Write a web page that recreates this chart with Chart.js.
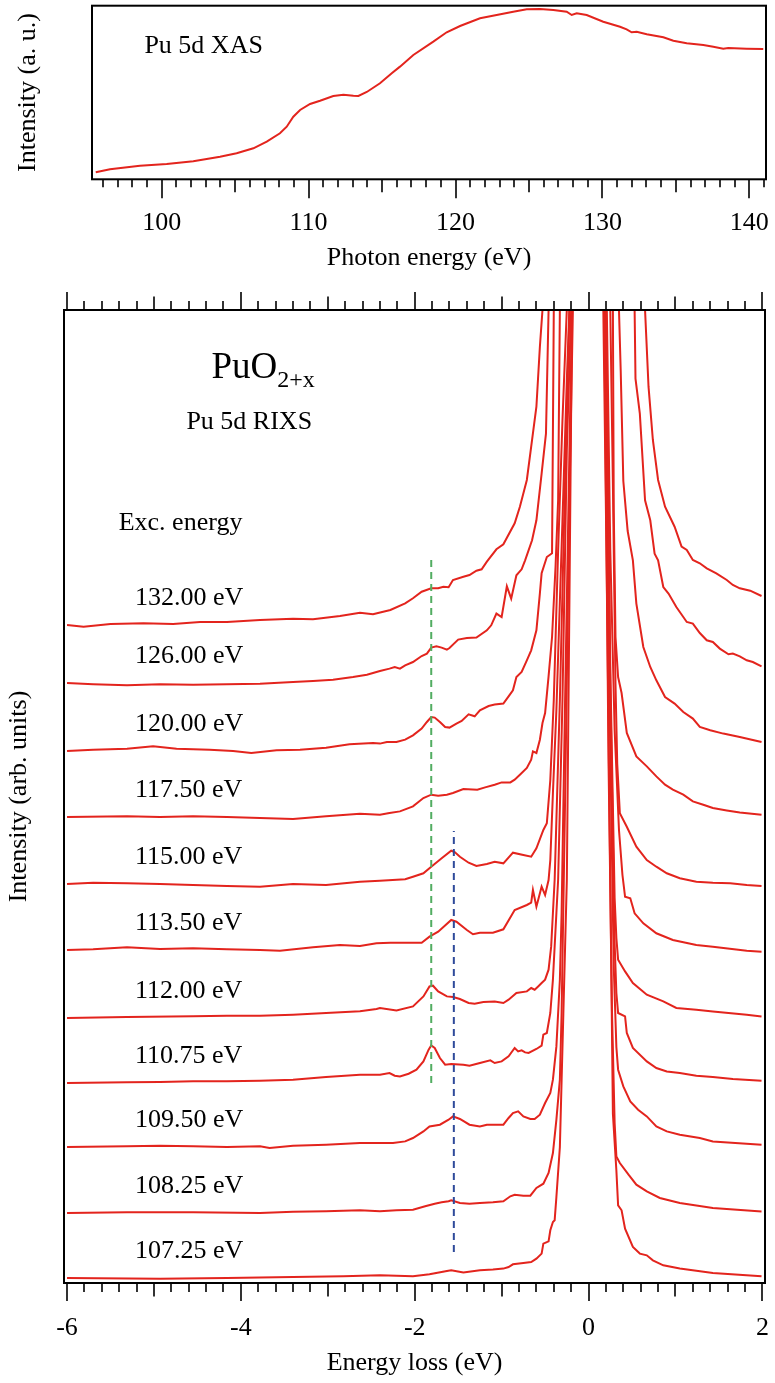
<!DOCTYPE html>
<html>
<head>
<meta charset="utf-8">
<script src="https://cdn.jsdelivr.net/npm/chart.js@4.4.1/dist/chart.umd.min.js"></script>
<style>
  html, body { margin: 0; padding: 0; background: #fff; }
  #wrap { position: relative; width: 775px; height: 1383px; }
  #xas { position: absolute; left: 0; top: 0; width: 775px; height: 285px; }
  #rixs { position: absolute; left: 0; top: 285px; width: 775px; height: 1098px; }
</style>
</head>
<body>
<div id="wrap">
  <canvas id="xas" width="775" height="285"></canvas>
  <canvas id="rixs" width="775" height="1098"></canvas>
</div>
<script>
// ---- Pu 5d XAS (photon energy in eV, intensity in a.u.) ----
const xasEnergy = [95.51, 96.48, 98.52, 100.34, 102.15, 103.97, 105.10, 106.24, 107.15, 108.05,
  108.51, 108.96, 109.42, 110.10, 110.78, 111.68, 112.37, 113.05, 113.39, 113.96, 114.86, 115.66,
  116.22, 117.13, 118.49, 119.40, 120.31, 121.67, 122.80, 123.93, 124.85, 125.75, 126.66, 127.57,
  127.91, 128.25, 128.93, 130.06, 131.20, 131.65, 131.99, 132.34, 133.02, 134.15, 134.83, 135.74,
  136.87, 137.55, 138.23, 138.57, 139.82, 140.95];
const xasIntensity = [4.03, 5.76, 7.83, 8.81, 10.37, 13.02, 14.98, 17.86, 21.66, 26.50,
  30.30, 36.06, 39.92, 43.38, 45.28, 47.99, 48.73, 48.16, 47.99, 50.29, 55.30, 61.06,
  64.90, 71.60, 79.28, 84.70, 88.31, 92.74, 94.64, 96.54, 97.93, 98.10, 97.52, 96.54,
  94.64, 95.62, 94.64, 90.79, 87.90, 86.41, 84.68, 85.02, 83.53, 81.80, 79.84, 78.34,
  77.36, 76.38, 75.23, 75.63, 75.23, 75.06];
const xasTickValues = [100, 110, 120, 130, 140];

// ---- Pu 5d RIXS of PuO2+x: [energy loss (eV), intensity above the spectrum's own baseline] ----
const excitationLabels = ['132.00 eV', '126.00 eV', '120.00 eV', '117.50 eV', '115.00 eV', '113.50 eV',
  '112.00 eV', '110.75 eV', '109.50 eV', '108.25 eV', '107.25 eV'];
// vertical offset of each spectrum (arb. units)
const offsets = [65.8, 60.0, 53.2, 46.6, 39.9, 33.3, 26.5, 20.0, 13.6, 7.0, 0.5];

const rixs13200 = [[-6.00,0],[-5.81,-0.17],[-5.50,0.10],[-5.12,0.17],[-4.78,0.10],[-4.47,0.30],[-4.16,0.30],
  [-3.78,0.50],[-3.40,0.63],[-3.17,0.57],[-2.86,0.90],[-2.63,1.23],[-2.48,1.07],[-2.28,1.50],[-2.11,2.17],
  [-2.02,2.67],[-1.92,3.33],[-1.81,3.67],[-1.73,3.67],[-1.67,3.83],[-1.61,3.77],[-1.56,4.50],[-1.44,4.83],
  [-1.37,5.00],[-1.29,5.43],[-1.23,5.57],[-1.17,6.33],[-1.06,7.57],[-0.98,8.07],[-0.85,10.17],[-0.79,11.83],
  [-0.71,14.50],[-0.66,17.83],[-0.60,21.83],[-0.56,27.83],[-0.53,31.50],[-0.45,60],[-0.30,150],[0.00,300],
  [0.30,150],[0.55,60],[0.65,31.5],[0.69,23.83],[0.74,18.50],[0.80,14.50],[0.88,11.83],[0.99,9.83],
  [1.07,7.83],[1.13,7.50],[1.20,6.50],[1.28,6.17],[1.36,5.67],[1.47,5.17],[1.59,4.50],[1.66,4.00],
  [1.74,3.67],[1.86,3.43],[1.99,2.90]];
const rixs12600 = [[-6.00,0],[-5.70,-0.13],[-5.31,-0.23],[-4.93,-0.13],[-4.55,-0.17],[-4.16,-0.13],[-3.78,-0.07],
  [-3.40,0.10],[-3.17,0.20],[-2.94,0.33],[-2.71,0.60],[-2.55,0.83],[-2.48,1.00],[-2.40,1.20],[-2.29,1.44],
  [-2.23,1.60],[-2.17,1.44],[-2.11,1.77],[-2.02,2.10],[-1.92,2.70],[-1.86,2.94],[-1.81,3.54],[-1.75,3.67],
  [-1.69,3.54],[-1.63,3.34],[-1.60,3.50],[-1.50,4.34],[-1.40,4.50],[-1.29,4.54],[-1.17,5.27],[-1.12,5.77],
  [-1.06,6.94],[-1.00,6.60],[-0.94,9.67],[-0.89,8.44],[-0.83,10.77],[-0.77,11.37],[-0.73,12.27],[-0.65,14.27],
  [-0.60,16.27],[-0.54,20.94],[-0.49,24.94],[-0.46,37.3],[-0.40,80],[-0.30,160],[0.00,300],[0.30,150],
  [0.45,70],[0.53,37.3],[0.54,30.44],[0.59,26.94],[0.65,18.27],[0.71,16.27],[0.76,12.94],[0.80,12.27],
  [0.86,9.60],[0.92,8.94],[1.01,7.60],[1.13,6.10],[1.20,5.94],[1.28,5.00],[1.36,4.27],[1.43,4.10],
  [1.51,3.44],[1.61,2.87],[1.66,2.94],[1.74,2.67],[1.82,2.27],[1.89,2.10],[1.99,1.67]];
const rixs12000 = [[-6.00,0],[-5.70,0.13],[-5.31,0.23],[-5.01,0.47],[-4.74,0.23],[-4.36,0.13],[-4.09,0],
  [-3.88,-0.20],[-3.59,0.07],[-3.32,0.13],[-3.02,0.33],[-2.75,0.67],[-2.48,0.80],[-2.40,0.74],[-2.32,0.90],
  [-2.21,0.90],[-2.11,1.14],[-2.02,1.57],[-1.92,2.24],[-1.86,2.90],[-1.81,3.40],[-1.77,3.34],[-1.71,2.90],
  [-1.65,2.40],[-1.60,2.34],[-1.52,2.74],[-1.46,3.00],[-1.38,3.67],[-1.31,3.47],[-1.25,4.07],[-1.15,4.50],
  [-1.08,4.64],[-0.98,4.74],[-0.92,5.47],[-0.87,6.07],[-0.83,7.40],[-0.77,7.90],[-0.71,9.07],[-0.66,10.07],
  [-0.60,12.07],[-0.56,15.77],[-0.54,17.77],[-0.48,19.40],[-0.42,19.77],[-0.40,44.1],[-0.30,120],[0.00,300],
  [0.25,150],[0.35,44.1],[0.37,38],[0.40,27],[0.45,22],[0.51,19.07],[0.55,14.74],[0.63,10.40],[0.71,8.40],
  [0.78,7.07],[0.88,5.40],[0.99,4.74],[1.09,3.90],[1.20,3.24],[1.28,2.40],[1.40,2.07],[1.55,1.74],
  [1.74,1.40],[1.99,0.90]];
const rixs11750 = [[-6.00,0],[-5.31,0.07],[-4.93,0],[-4.55,0.07],[-4.16,0],[-3.78,-0.10],[-3.40,-0.20],
  [-3.02,0.07],[-2.63,0.33],[-2.40,0.23],[-2.29,0.40],[-2.17,0.56],[-2.02,1.06],[-1.90,1.90],[-1.81,2.23],
  [-1.73,2.13],[-1.63,2.23],[-1.56,2.40],[-1.44,2.80],[-1.28,2.73],[-1.19,2.96],[-1.08,3.23],[-1.00,3.46],
  [-0.90,3.46],[-0.85,3.73],[-0.79,4.23],[-0.71,4.90],[-0.66,5.73],[-0.64,6.56],[-0.60,6.40],[-0.56,7.73],
  [-0.53,9.40],[-0.50,10.40],[-0.46,14.06],[-0.42,18.00],[-0.38,25.00],[-0.35,31.70],[-0.33,50.8],
  [-0.25,120],[0.00,300],[0.20,150],[0.28,50.8],[0.29,30.7],[0.31,18.0],[0.34,14.0],[0.38,12.40],
  [0.44,8.40],[0.55,6.06],[0.67,5.06],[0.78,4.06],[0.88,3.23],[0.97,2.73],[1.09,2.23],[1.20,1.56],
  [1.32,1.23],[1.43,0.90],[1.59,0.66],[1.74,0.46],[1.99,0.23]];
const rixs11500 = [[-6.00,0],[-5.70,0.13],[-5.31,0.07],[-4.93,0],[-4.55,-0.10],[-4.16,-0.20],[-3.78,-0.27],
  [-3.40,0],[-3.02,-0.10],[-2.63,0.23],[-2.40,0.33],[-2.11,0.47],[-2.02,0.73],[-1.90,1.07],[-1.81,1.73],
  [-1.69,2.57],[-1.58,3.33],[-1.54,3.20],[-1.48,2.73],[-1.38,2.13],[-1.29,1.80],[-1.17,2.00],[-1.08,2.23],
  [-0.98,2.07],[-0.87,3.13],[-0.75,2.90],[-0.66,2.73],[-0.60,3.57],[-0.52,5.40],[-0.48,6.07],[-0.44,10.40],
  [-0.40,18.40],[-0.35,33.40],[-0.30,46.40],[-0.25,57.5],[-0.20,120],[0.00,300],[0.20,120],[0.25,57.5],
  [0.28,40],[0.31,20],[0.33,12],[0.36,7.07],[0.44,5.73],[0.55,3.73],[0.67,2.40],[0.78,1.73],[0.90,1.07],
  [1.05,0.57],[1.24,0.23],[1.43,0.13],[1.63,0.07],[1.82,-0.10],[1.99,-0.20]];
const rixs11350 = [[-6.00,0],[-5.70,0.07],[-5.31,0.27],[-4.93,0.10],[-4.55,0.17],[-4.16,0.07],[-3.78,0],
  [-3.55,-0.07],[-3.17,0.27],[-2.86,0.50],[-2.63,0.40],[-2.44,0.67],[-2.28,0.73],[-1.92,0.73],[-1.83,1.33],
  [-1.73,1.83],[-1.58,3.00],[-1.52,2.83],[-1.40,2.00],[-1.33,1.57],[-1.25,1.73],[-1.10,1.73],[-0.98,2.07],
  [-0.85,4.00],[-0.71,4.50],[-0.66,4.73],[-0.64,6.00],[-0.60,4.33],[-0.54,6.33],[-0.50,5.50],[-0.46,7.00],
  [-0.44,9.00],[-0.41,15.70],[-0.37,24.00],[-0.30,43.00],[-0.25,57.00],[-0.22,64.1],[-0.15,130],[0.00,300],
  [0.15,130],[0.21,64.1],[0.25,40],[0.30,22],[0.35,12],[0.39,7.5],[0.42,5.33],[0.48,5.17],[0.53,3.67],
  [0.63,2.67],[0.78,1.67],[0.97,1.00],[1.24,0.50],[1.43,0.33],[1.82,-0.07],[1.99,-0.17]];
const rixs11200 = [[-6.00,0],[-5.31,0.10],[-4.55,0.17],[-4.16,0.23],[-3.78,0.23],[-3.40,0.33],[-3.02,0.50],
  [-2.63,0.67],[-2.44,0.90],[-2.40,1.00],[-2.21,0.76],[-2.02,1.16],[-1.90,2.16],[-1.83,3.16],[-1.79,3.23],
  [-1.73,2.66],[-1.63,2.16],[-1.56,2.10],[-1.48,1.90],[-1.38,1.50],[-1.31,1.43],[-1.21,1.60],[-1.08,1.66],
  [-0.98,1.50],[-0.92,1.83],[-0.83,2.50],[-0.71,2.66],[-0.66,3.00],[-0.62,2.83],[-0.58,3.16],[-0.54,3.50],
  [-0.50,3.83],[-0.46,4.83],[-0.43,7.16],[-0.41,10.50],[-0.39,13.83],[-0.33,31.80],[-0.27,53.80],[-0.22,70.8],
  [-0.15,150],[0.00,300],[0.15,150],[0.20,70.8],[0.25,35],[0.30,12],[0.32,8],[0.34,5.83],[0.42,4.66],
  [0.51,3.50],[0.67,2.33],[0.86,1.66],[1.01,1.00],[1.24,0.83],[1.43,0.66],[1.82,0.33],[1.99,0.16]];
const rixs11075 = [[-6.00,0],[-5.31,0.07],[-4.93,0.10],[-4.55,0.17],[-4.16,0.17],[-3.78,0.23],[-3.40,0.33],
  [-3.02,0.60],[-2.63,0.83],[-2.40,0.83],[-2.29,1.00],[-2.23,0.73],[-2.17,0.66],[-2.07,0.93],[-1.98,1.33],
  [-1.90,2.16],[-1.84,3.33],[-1.81,3.76],[-1.77,3.50],[-1.71,2.50],[-1.65,1.83],[-1.58,1.90],[-1.44,1.83],
  [-1.37,1.73],[-1.25,2.00],[-1.13,2.26],[-1.08,2.00],[-1.00,2.16],[-0.92,2.66],[-0.85,3.50],[-0.81,3.16],
  [-0.77,3.26],[-0.73,3.06],[-0.69,3.00],[-0.60,3.40],[-0.54,3.73],[-0.52,4.83],[-0.48,5.00],[-0.44,7.00],
  [-0.41,10.33],[-0.37,17.00],[-0.35,20.33],[-0.30,38.30],[-0.25,63.30],[-0.20,77.4],[-0.12,160],[0.00,300],
  [0.15,160],[0.20,77.4],[0.25,40],[0.30,14],[0.32,9],[0.34,7.00],[0.42,6.66],[0.44,5.00],[0.51,3.50],
  [0.67,2.16],[0.78,1.50],[0.90,1.16],[1.05,1.00],[1.24,0.73],[1.43,0.60],[1.66,0.40],[1.99,0.23]];
const rixs10950 = [[-6.00,0],[-5.31,0.07],[-4.93,0.13],[-4.55,0.07],[-4.16,0],[-3.78,0.07],[-3.67,-0.10],
  [-3.40,0.13],[-3.02,0.23],[-2.63,0.40],[-2.40,0.40],[-2.25,0.40],[-2.11,0.56],[-2.02,0.90],[-1.90,1.56],
  [-1.83,2.06],[-1.71,2.23],[-1.61,2.73],[-1.56,3.06],[-1.48,2.80],[-1.37,2.23],[-1.25,2.06],[-1.17,2.23],
  [-0.98,2.23],[-0.92,2.90],[-0.87,3.40],[-0.81,3.56],[-0.75,3.06],[-0.67,2.80],[-0.62,2.80],[-0.56,3.23],
  [-0.50,4.40],[-0.44,5.40],[-0.41,6.73],[-0.37,10.06],[-0.33,16.73],[-0.31,23.40],[-0.27,44.70],
  [-0.22,69.70],[-0.19,83.8],[-0.10,180],[0.00,300],[0.10,180],[0.19,83.8],[0.24,45],[0.29,18],[0.32,10],
  [0.34,7.73],[0.40,6.06],[0.48,4.56],[0.57,3.73],[0.67,3.06],[0.78,2.06],[0.90,1.56],[1.05,1.23],
  [1.28,0.90],[1.43,0.56],[1.99,0.23]];
const rixs10825 = [[-6.00,0],[-5.31,0.07],[-4.55,0.07],[-3.78,0],[-3.40,0.13],[-3.02,0.17],[-2.63,0.27],
  [-2.40,0.17],[-2.21,0.27],[-2.02,0.33],[-1.88,0.67],[-1.77,0.93],[-1.69,1.07],[-1.61,1.17],[-1.58,1.27],
  [-1.48,1.00],[-1.37,0.93],[-1.25,1.00],[-1.10,1.07],[-0.98,1.17],[-0.90,1.67],[-0.85,1.83],[-0.75,1.73],
  [-0.67,1.73],[-0.60,2.50],[-0.52,2.93],[-0.46,4.00],[-0.41,6.00],[-0.37,9.33],[-0.33,13.33],[-0.31,20.00],
  [-0.27,41.30],[-0.22,71.30],[-0.18,90.4],[-0.10,200],[0.00,300],[0.10,200],[0.18,90.4],[0.23,45],
  [0.27,20],[0.30,9],[0.32,5.66],[0.36,5.00],[0.46,3.83],[0.55,2.83],[0.67,2.16],[0.82,1.50],[1.05,1.00],
  [1.43,0.50],[1.99,0.16]];
const rixs10725 = [[-6.00,0],[-4.93,-0.07],[-4.16,0],[-3.40,0.10],[-2.82,0.17],[-2.40,0.27],[-2.02,0.17],
  [-1.83,0.37],[-1.63,0.70],[-1.58,0.77],[-1.44,0.54],[-1.25,0.77],[-1.10,0.84],[-0.98,0.94],[-0.92,1.10],
  [-0.87,1.37],[-0.75,1.50],[-0.66,1.60],[-0.60,1.94],[-0.54,2.44],[-0.52,3.44],[-0.46,3.67],[-0.44,4.77],
  [-0.41,5.60],[-0.39,5.77],[-0.37,8.10],[-0.33,13.10],[-0.31,19.77],[-0.29,26.44],[-0.27,33.10],
  [-0.25,39.77],[-0.22,67.77],[-0.19,96.8],[-0.10,200],[0.00,300],[0.10,200],[0.17,96.8],[0.21,70],
  [0.25,39.77],[0.28,16.44],[0.32,10.77],[0.34,7.27],[0.38,6.77],[0.42,4.94],[0.51,3.10],[0.59,2.44],
  [0.67,2.27],[0.74,1.77],[0.86,1.27],[1.05,0.94],[1.43,0.50],[1.99,0.17]];

const rixsSpectra = [rixs13200, rixs12600, rixs12000, rixs11750, rixs11500, rixs11350,
  rixs11200, rixs11075, rixs10950, rixs10825, rixs10725];
const rixsTickValues = [-6, -4, -2, 0, 2];

// guide lines marking the two loss features: [energy loss, lower end, upper end]
const greenGuide = [-1.81, 20.0, 72.5];
const blueGuide = [-1.55, 3.1, 45.2];

// ---- drawing ----
const SERIF = '"Liberation Serif", "Times New Roman", Times, serif';
const RED = '#e3241d';
Chart.defaults.font.family = SERIF;
Chart.defaults.font.size = 26;
Chart.defaults.color = '#000';

// box around the plot area plus outward tick marks (minor / middle / major)
function frameAndTicks(opts) {
  return {
    id: 'frameAndTicks',
    afterDraw(chart) {
      const { ctx, chartArea: a } = chart;
      const xs = chart.scales.x;
      ctx.save();
      ctx.strokeStyle = '#000';
      ctx.lineWidth = 2;
      ctx.strokeRect(a.left, a.top, a.right - a.left, a.bottom - a.top);
      ctx.lineWidth = 1.6;
      ctx.beginPath();
      const first = Math.ceil(xs.min / opts.minor - 1e-6);
      const last = Math.floor(xs.max / opts.minor + 1e-6);
      const majorEvery = Math.round(opts.major / opts.minor);
      const midEvery = Math.round(opts.mid / opts.minor);
      for (let i = first; i <= last; i++) {
        const px = Math.round(xs.getPixelForValue(i * opts.minor));
        let len = opts.minorLen;
        if (Math.abs(i) % majorEvery === 0) len = opts.majorLen;
        else if (Math.abs(i) % midEvery === 0) len = opts.midLen;
        ctx.moveTo(px, a.bottom);
        ctx.lineTo(px, a.bottom + len);
        if (opts.top) {
          ctx.moveTo(px, a.top);
          ctx.lineTo(px, a.top - len);
        }
      }
      ctx.stroke();
      ctx.restore();
    }
  };
}

const xasText = {
  id: 'xasText',
  afterDraw(chart) {
    const { ctx, chartArea: a } = chart;
    ctx.save();
    ctx.fillStyle = '#000';
    ctx.textAlign = 'left';
    ctx.textBaseline = 'alphabetic';
    ctx.font = '26px ' + SERIF;
    ctx.fillText('Pu 5d XAS', a.left + 52.4, a.top + 47.5);
    ctx.restore();
  }
};

const rixsText = {
  id: 'rixsText',
  afterDraw(chart) {
    const { ctx, chartArea: a, scales: { y } } = chart;
    ctx.save();
    ctx.fillStyle = '#000';
    ctx.textAlign = 'left';
    ctx.textBaseline = 'alphabetic';
    ctx.font = '37px ' + SERIF;
    const x0 = a.left + 147.4;
    ctx.fillText('PuO', x0, a.top + 68.3);
    const w = ctx.measureText('PuO').width;
    ctx.font = '24px ' + SERIF;
    ctx.fillText('2+x', x0 + w, a.top + 77.3);
    ctx.font = '26px ' + SERIF;
    ctx.fillText('Pu 5d RIXS', a.left + 122.4, a.top + 119);
    ctx.fillText('Exc. energy', a.left + 54.7, a.top + 220);
    excitationLabels.forEach((t, i) => {
      ctx.fillText(t, a.left + 71, y.getPixelForValue(offsets[i] + 2.0));
    });
    ctx.restore();
  }
};

const noGrid = { display: false, drawTicks: false };
// fixed axis box sizes; edge label overhang is already covered by the layout padding
const fixHeight = h => s => { s.height = h; s.paddingLeft = 0; s.paddingRight = 0; };
const fixWidth = w => s => { s.width = w; s.paddingTop = 0; s.paddingBottom = 0; };

// top panel: XAS
new Chart(document.getElementById('xas'), {
  type: 'line',
  data: {
    datasets: [{
      data: xasEnergy.map((e, i) => ({ x: e, y: xasIntensity[i] })),
      borderColor: RED, borderWidth: 2, pointRadius: 0, tension: 0, clip: 0
    }]
  },
  options: {
    responsive: false, animation: false, devicePixelRatio: 1,
    layout: { padding: { top: 5.7, right: 9, bottom: 0, left: 0 } },
    plugins: { legend: { display: false }, tooltip: { enabled: false } },
    scales: {
      x: {
        type: 'linear', min: 95.255, max: 141.137,
        grid: noGrid, border: { display: false },
        afterBuildTicks: s => { s.ticks = xasTickValues.map(v => ({ value: v })); },
        afterFit: fixHeight(105.7),
        ticks: { padding: 27.9, autoSkip: false, maxRotation: 0, callback: v => String(v) },
        title: { display: true, text: 'Photon energy (eV)', padding: { top: 0, bottom: 11.5 } }
      },
      y: {
        type: 'linear', min: 0, max: 100,
        grid: noGrid, border: { display: false }, ticks: { display: false },
        afterFit: fixWidth(92),
        title: { display: true, text: 'Intensity (a. u.)', padding: { top: 12.1, bottom: 0 } }
      }
    }
  },
  plugins: [frameAndTicks({ minor: 1, mid: 5, major: 10, minorLen: 8, midLen: 13, majorLen: 19, top: false }), xasText]
});

// bottom panel: RIXS spectra stacked by excitation energy
const guideSet = (g, color) => ({
  data: [{ x: g[0], y: g[1] }, { x: g[0], y: g[2] }],
  borderColor: color, borderWidth: 2, borderDash: [7, 5], pointRadius: 0, clip: 0
});
const spectraSets = rixsSpectra.map((s, i) => ({
  data: s.map(([e, v]) => ({ x: e, y: offsets[i] + v })),
  borderColor: RED, borderWidth: 2, pointRadius: 0, tension: 0, clip: 0
}));

new Chart(document.getElementById('rixs'), {
  type: 'line',
  data: { datasets: [guideSet(greenGuide, '#52ad62'), guideSet(blueGuide, '#2e4a9a'), ...spectraSets] },
  options: {
    responsive: false, animation: false, devicePixelRatio: 1,
    layout: { padding: { top: 25, right: 10, bottom: 0, left: 0 } },
    plugins: { legend: { display: false }, tooltip: { enabled: false } },
    scales: {
      x: {
        type: 'linear', min: -6.035, max: 2.03,
        grid: noGrid, border: { display: false },
        afterBuildTicks: s => { s.ticks = rixsTickValues.map(v => ({ value: v })); },
        afterFit: fixHeight(100),
        ticks: { padding: 29.4, autoSkip: false, maxRotation: 0, callback: v => String(v) },
        title: { display: true, text: 'Energy loss (eV)', padding: { top: 0, bottom: 4.5 } }
      },
      y: {
        type: 'linear', min: 0, max: 97.3,
        grid: noGrid, border: { display: false }, ticks: { display: false },
        afterFit: fixWidth(64),
        title: { display: true, text: 'Intensity (arb. units)', padding: { top: 4, bottom: 0 } }
      }
    }
  },
  plugins: [frameAndTicks({ minor: 0.2, mid: 1, major: 2, minorLen: 9, midLen: 13.5, majorLen: 18, top: true }), rixsText]
});
</script>
</body>
</html>
